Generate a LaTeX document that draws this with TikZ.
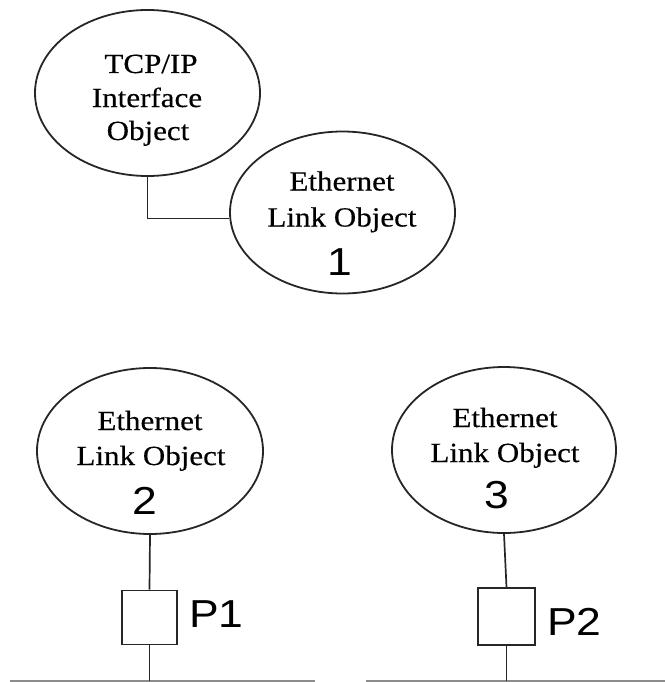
\documentclass[tikz,border=0pt]{standalone}
\usepackage{fontspec}
\usetikzlibrary{shapes.geometric}
\newfontfamily\serifx[FakeStretch=1.12,FakeBold=0.4]{Liberation Serif}
\newfontfamily\sansx[FakeStretch=1.14]{Liberation Sans}
\tikzset{
  ell/.style={ellipse, draw=black!85, line width=1.8pt, inner sep=0pt},
  serl/.style={anchor=base, inner sep=0pt, font=\serifx\fontsize{27.7pt}{35pt}\selectfont},
  digl/.style={anchor=base, inner sep=0pt, font=\sansx\fontsize{39pt}{44pt}\selectfont},
  portbox/.style={draw=black!85, line width=1.7pt, inner sep=0pt},
  conn/.style={line width=1.7pt, draw=black!85},
  busline/.style={line width=1.8pt, draw=black!45}
}
\begin{document}
\begin{tikzpicture}[x=1pt,y=-1pt]
\useasboundingbox (0,0) rectangle (665,682);
% ellipses
\node[ell, minimum width=225pt, minimum height=166pt] (tcp) at (147.5,93) {};
\node[ell, minimum width=225pt, minimum height=162pt] (eth1) at (342.5,212.5) {};
\node[ell, minimum width=226pt, minimum height=166pt] (eth2) at (150,451) {};
\node[ell, minimum width=224pt, minimum height=166pt] (eth3) at (504,450) {};
% texts
\node[serl] (tcpa) at (151,73) {TCP/IP};
\node[serl] (tcpb) at (147,107) {Interface};
\node[serl] (tcpc) at (148,140) {Object};
\node[serl] (e1a) at (342,190.5) {Ethernet};
\node[serl] (e1b) at (342,226.5) {Link Object};
\node[digl] (e1c) at (340,275) {1};
\node[serl] (e2a) at (150,430) {Ethernet};
\node[serl] (e2b) at (151,465) {Link Object};
\node[digl] (e2c) at (145,514) {2};
\node[serl] (e3a) at (505,427) {Ethernet};
\node[serl] (e3b) at (505,462) {Link Object};
\node[digl] (e3c) at (497,508) {3};
% port boxes
\node[portbox, minimum width=55pt, minimum height=54pt] (box1) at (149.5,617.5) {};
\node[portbox, minimum width=57pt, minimum height=57pt] (box2) at (506.5,616.5) {};
\node[digl, anchor=base west] (p1) at (189,627) {P1};
\node[digl, anchor=base west] (p2) at (547,635) {P2};
% bus lines
\coordinate (bl1a) at (10,681);
\coordinate (bl1b) at (315,681);
\coordinate (bl2a) at (366,681);
\coordinate (bl2b) at (665,681);
\draw[busline] (bl1a) -- (bl1b);
\draw[busline] (bl2a) -- (bl2b);
% connectors
\draw[conn] (tcp.south) |- (eth1.183);
\draw[conn] (eth2.south) -- (box1.north);
\draw[conn] (eth3.south) -- (box2.north);
\draw[conn] (box1.south) -- (box1.south |- bl1a);
\draw[conn] (box2.south) -- (box2.south |- bl2a);
\end{tikzpicture}
\end{document}
